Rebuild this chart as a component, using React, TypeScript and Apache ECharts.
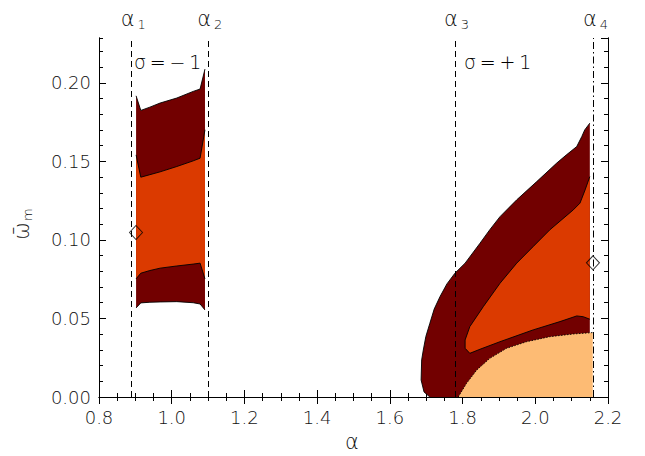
import React, { useEffect, useRef } from "react";
import * as echarts from "echarts";

// ---- data (alpha, omega_m) ----
const xTicks = [0.8, 1.0, 1.2, 1.4, 1.6, 1.8, 2.0, 2.2];
const yTicks = [0.0, 0.05, 0.1, 0.15, 0.2];
const alphaLines = [0.89, 1.1006, 1.7791, 2.1614];
const alphaLabels = ["1", "2", "3", "4"];

// sigma = -1 region
const leftOuterTop = [[0.902, 0.1917], [0.915, 0.1824], [0.94, 0.1845], [0.968, 0.1871], [1.014, 0.1903], [1.059, 0.1945], [1.078, 0.196], [1.0915, 0.2087]];
const leftOuterBottom = [[0.902, 0.0567], [0.915, 0.0599], [0.94, 0.0603], [0.968, 0.0605], [1.014, 0.0607], [1.059, 0.06], [1.078, 0.0592], [1.0915, 0.0554]];
const leftInnerTop = [[0.902, 0.1541], [0.915, 0.1399], [0.94, 0.1415], [0.968, 0.1433], [1.014, 0.1467], [1.059, 0.1503], [1.078, 0.152], [1.0915, 0.1701]];
const leftInnerBottom = [[0.902, 0.0752], [0.915, 0.0788], [0.94, 0.0805], [0.968, 0.082], [1.014, 0.0834], [1.059, 0.0846], [1.078, 0.0852], [1.0915, 0.0752]];

// sigma = +1 region
const rightOuter = [[2.150, 0.1743], [2.136, 0.1700], [2.128, 0.1658], [2.114, 0.1594], [2.085, 0.1540], [2.059, 0.1489], [2.004, 0.1371], [1.949, 0.1255], [1.903, 0.1148], [1.875, 0.1065], [1.848, 0.0979], [1.807, 0.0852], [1.779, 0.0788], [1.757, 0.0720], [1.738, 0.0639], [1.722, 0.0560], [1.710, 0.0469], [1.699, 0.0385], [1.692, 0.0299], [1.6875, 0.0236], [1.686, 0.0108], [1.694, 0.0032], [1.710, 0.0]];
const rightOuterEdge = [[2.150, 0.0]];
const rightInner = [[2.150, 0.1403], [2.137, 0.1318], [2.123, 0.1234], [2.1045, 0.1191], [2.040, 0.1064], [1.994, 0.0957], [1.949, 0.0852], [1.903, 0.0724], [1.857, 0.0575], [1.820, 0.0448], [1.807, 0.0363], [1.807, 0.031], [1.820, 0.0278], [1.848, 0.0304], [1.903, 0.0352], [1.994, 0.0427], [2.068, 0.048], [2.114, 0.0516], [2.132, 0.0511], [2.150, 0.0495]];
const rightLow = [[1.788, 0.0], [1.811, 0.0087], [1.839, 0.0172], [1.875, 0.0246], [1.921, 0.031], [1.976, 0.0352], [2.040, 0.0384], [2.1045, 0.0401], [2.158, 0.041]];
const rightLowEdge = [[2.158, 0.0]];

const diamonds = [[0.9018, 0.1047], [2.1586, 0.0854]];

const DARK = "#720000";
const MID = "#DB3A00";
const LIGHT = "#FDBB74";
const TXT = "#111";

type P = number[];

function region(fillPts: P[], outlines: P[][], fill: string, dash?: number[]) {
  return {
    type: "custom",
    xAxisIndex: 0,
    yAxisIndex: 0,
    silent: true,
    data: [[1.5, 0.1]],
    renderItem: (_params: any, api: any) => {
      const children: any[] = [
        { type: "polygon", shape: { points: fillPts.map((p) => api.coord(p)) }, style: { fill, stroke: null } },
      ];
      outlines.forEach((o) => {
        children.push({
          type: "polyline",
          shape: { points: o.map((p) => api.coord(p)) },
          style: { stroke: "#000", lineWidth: 0.9, fill: null, lineDash: dash || null },
        });
      });
      return { type: "group", children };
    },
  };
}

const FONT = "DejaVu Sans";

export default function App() {
  const ref = useRef<HTMLDivElement>(null);
  useEffect(() => {
    if (!ref.current) return;
    const chart = echarts.init(ref.current, null, { renderer: "svg" });
    const xMin = xTicks[0];
    const xMax = xTicks[xTicks.length - 1];
    const yMax = 0.2285;
    const isMajorY = (v: number) => yTicks.some((t) => Math.abs(t - v) < 1e-6);
    const common = {
      axisLine: { show: true, lineStyle: { color: "#000", width: 1 } },
      splitLine: { show: false },
    };
    const xBase = (pos: string, labels: boolean) => ({
      type: "value",
      position: pos,
      min: xMin,
      max: xMax,
      interval: 0.2,
      ...common,
      axisTick: { show: true, inside: true, length: 7, lineStyle: { color: "#000" } },
      minorTick: { show: true, splitNumber: 4, length: 4, lineStyle: { color: "#000" } },
      axisLabel: labels
        ? { show: true, margin: 11, color: TXT, fontFamily: FONT, fontWeight: 200, fontSize: 18, formatter: (v: number) => v.toFixed(1) }
        : { show: false },
    });
    const yBase = (pos: string, labels: boolean, interval: number, tickLen: number) => ({
      type: "value",
      position: pos,
      min: 0,
      max: yMax,
      interval,
      ...common,
      axisTick: { show: true, inside: true, length: tickLen, lineStyle: { color: "#000" } },
      axisLabel: labels
        ? {
            show: true,
            margin: 8,
            color: TXT,
            fontFamily: FONT,
            fontWeight: 200,
            fontSize: 18,
            showMaxLabel: false,
            formatter: (v: number) => (isMajorY(v) ? v.toFixed(2) : ""),
          }
        : { show: false },
    });

    const graphics: any[] = [];
    alphaLines.forEach((a, i) => {
      const px = 99 + ((a - xMin) / (xMax - xMin)) * 509;
      graphics.push({
        type: "text",
        x: px - 11,
        y: 19,
        style: {
          text: `{a|α}{s|${alphaLabels[i]}}`,
          verticalAlign: "middle",
          rich: {
            a: { fontFamily: FONT, fontWeight: 200, fontSize: 21, lineHeight: 24, fill: TXT, verticalAlign: "middle" },
            s: { fontFamily: FONT, fontWeight: 200, fontSize: 13, lineHeight: 14, fill: TXT, verticalAlign: "bottom", padding: [0, 0, 0, 3] },
          },
        },
      });
    });
    graphics.push({
      type: "text",
      x: 134,
      y: 62,
      style: { text: "σ\u2009=\u2009−\u20091", fontFamily: FONT, fontWeight: 200, fontSize: 19, fill: "#000", verticalAlign: "middle" },
    });
    graphics.push({
      type: "text",
      x: 464,
      y: 62,
      style: { text: "σ\u2009=\u2009+\u20091", fontFamily: FONT, fontWeight: 200, fontSize: 19, fill: "#000", verticalAlign: "middle" },
    });
    graphics.push({
      type: "text",
      x: 352,
      y: 442,
      style: { text: "α", fontFamily: FONT, fontWeight: 200, fontSize: 21, fill: TXT, align: "center", verticalAlign: "middle" },
    });
    graphics.push({
      type: "text",
      x: 22,
      y: 224,
      rotation: Math.PI / 2,
      style: {
        text: "{w|ω\u0304}{s|m}",
        align: "center",
        verticalAlign: "middle",
        rich: {
          w: { fontFamily: FONT, fontWeight: 200, fontSize: 21, lineHeight: 24, fill: TXT, verticalAlign: "middle" },
          s: { fontFamily: FONT, fontWeight: 200, fontSize: 13, lineHeight: 13, fill: TXT, verticalAlign: "bottom", padding: [0, 0, 0, 1] },
        },
      },
    });

    const leftOuterPoly = [...leftOuterTop, ...[...leftOuterBottom].reverse()];
    const leftInnerPoly = [...leftInnerTop, ...[...leftInnerBottom].reverse()];

    chart.setOption({
      animation: false,
      backgroundColor: "#fff",
      grid: { left: 99, top: 38, right: 37, bottom: 59 },
      xAxis: [xBase("bottom", true), xBase("top", false)],
      yAxis: [
        yBase("left", true, 0.05, 7),
        yBase("left", false, 0.01, 4),
        yBase("right", false, 0.05, 7),
        yBase("right", false, 0.01, 4),
      ],
      graphic: graphics,
      series: [
        region(leftOuterPoly, [leftOuterTop, leftOuterBottom], DARK),
        region(leftInnerPoly, [leftInnerTop, leftInnerBottom], MID),
        region([...rightOuter, ...rightOuterEdge], [rightOuter], DARK),
        region(rightInner, [rightInner], MID),
        region([...rightLow, ...rightLowEdge], [rightLow], LIGHT, [1.5, 1.5]),
        {
          type: "scatter",
          xAxisIndex: 0,
          yAxisIndex: 0,
          symbol: "diamond",
          symbolSize: [13, 14],
          silent: true,
          itemStyle: { color: "rgba(255,255,255,0)", borderColor: "#000", borderWidth: 1 },
          data: diamonds,
          markLine: {
            silent: true,
            symbol: "none",
            label: { show: false },
            data: alphaLines.map((a, i) => ({
              xAxis: a,
              lineStyle: { color: "#000", width: 1, type: i === 3 ? [7, 3, 1.5, 3] : [6, 4] },
            })),
          },
          z: 5,
        },
      ],
    });
    return () => chart.dispose();
  }, []);
  return <div ref={ref} style={{ position: "absolute", left: 0, top: 0, width: 645, height: 456 }} />;
}
